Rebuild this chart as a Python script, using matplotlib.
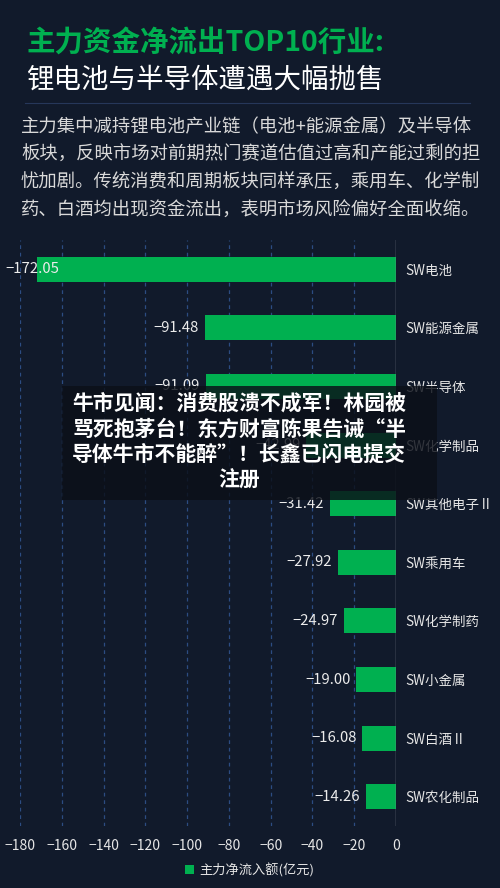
import numpy as np
import matplotlib
matplotlib.use("Agg")
import matplotlib.pyplot as plt
from matplotlib.patches import Rectangle, Patch
from matplotlib.lines import Line2D

plt.rcParams['font.family'] = ['Noto Sans CJK SC', 'DejaVu Sans']
plt.rcParams['axes.unicode_minus'] = True

# 数据
categories = ["SW电池", "SW能源金属", "SW半导体", "SW化学制品", "SW其他电子Ⅱ",
              "SW乘用车", "SW化学制药", "SW小金属", "SW白酒Ⅱ", "SW农化制品"]
values = [-172.05, -91.48, -91.09, -42.99, -31.42, -27.92, -24.97, -19.00, -16.08, -14.26]
x_ticks = [-180, -160, -140, -120, -100, -80, -60, -40, -20, 0]
legend_label = "主力净流入额(亿元)"

title_green = "主力资金净流出TOP10行业:"
title_white = "锂电池与半导体遭遇大幅抛售"
paragraph = ["主力集中减持锂电池产业链（电池+能源金属）及半导体",
             "板块，反映市场对前期热门赛道估值过高和产能过剩的担",
             "忧加剧。传统消费和周期板块同样承压，乘用车、化学制",
             "药、白酒均出现资金流出，表明市场风险偏好全面收缩。"]
caption = ["牛市见闻：消费股溃不成军！林园被",
           "骂死抱茅台！东方财富陈果告诫“半",
           "导体牛市不能醉”！长鑫已闪电提交",
           "注册"]

BG = "#111a2b"
GREEN = "#00b050"
W, H = 500, 888

fig = plt.figure(figsize=(W / 100, H / 100), dpi=100, facecolor=BG)

def fy(py):
    return 1 - py / H

# 标题
fig.text(27 / W, fy(43), title_green, color=GREEN, fontsize=20.5, fontweight="heavy",
         ha="left", va="center")
fig.text(26 / W, fy(80), title_white, color="white", fontsize=19.8, fontweight="medium",
         ha="left", va="center")
fig.add_artist(Line2D([25 / W, 470 / W], [fy(103), fy(103)], color="#26375a", lw=0.8))
for i, line in enumerate(paragraph):
    fig.text(21 / W, fy(127 + i * 27.8), line, color="#d9d9d9", fontsize=13.2,
             ha="left", va="center")

# 图表
ax = fig.add_axes([20 / W, fy(826), 376 / W, (826 - 240) / H])
ax.set_facecolor(BG)
y = np.arange(len(categories))
bars = ax.barh(y, values, height=0.43, color=GREEN, zorder=3)
ax.set_xlim(-180, 0)
ax.set_ylim(len(categories) - 0.5, -0.5)
ax.set_xticks(x_ticks)
ax.set_xticklabels([f"−{abs(t)}" if t < 0 else "0" for t in x_ticks])
for t in x_ticks[:-1]:
    ax.axvline(t, color="#2c4c82", lw=0.9, ls=(0, (3, 3)), zorder=1)
ax.axvline(0, color="#8a8f99", lw=1.0, zorder=4)
ax.tick_params(axis="x", length=0, pad=9, labelsize=10, colors="#e6e6e6")
ax.yaxis.tick_right()
ax.set_yticks(y)
ax.set_yticklabels(categories)
ax.tick_params(axis="y", length=0, pad=6.5, labelsize=9.7, colors="#e6e6e6")
for s in ax.spines.values():
    s.set_visible(False)

for yi, v in zip(y, values):
    txt = f"−{abs(v):.2f}"
    if v < -160:
        ax.annotate(txt, xy=(-180, yi), xytext=(-15, 0), textcoords="offset pixels",
                    ha="left", va="center", fontsize=10.7, color="#ececec", zorder=5)
    else:
        ax.annotate(txt, xy=(v, yi), xytext=(-6, 0), textcoords="offset pixels",
                    ha="right", va="center", fontsize=10.7, color="#ececec", zorder=5)

# 图例
fig.legend(handles=[Patch(facecolor=GREEN, edgecolor="none", label=legend_label)],
           loc="center", bbox_to_anchor=(250 / W, fy(870)), frameon=False,
           fontsize=9.5, labelcolor="#e6e6e6", handlelength=0.7, handleheight=0.7,
           handletextpad=0.4)

# 覆盖标题
fig.add_artist(Rectangle((62 / W, fy(500)), (437 - 62) / W, (500 - 386) / H,
                         transform=fig.transFigure, facecolor="#0b0f18", alpha=0.82,
                         edgecolor="none", zorder=10))
for i, line in enumerate(caption):
    fig.text(239 / W, fy(403 + i * 25.8), line, color="white", fontsize=15,
             fontweight="bold", ha="center", va="center", zorder=11)

fig.savefig("out.png", dpi=100, facecolor=BG)
